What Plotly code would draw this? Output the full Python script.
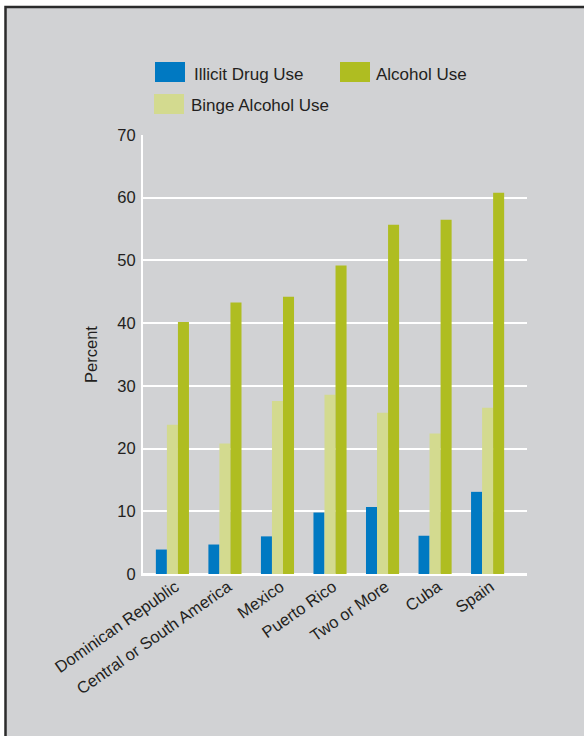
import plotly.graph_objects as go

categories = ["Dominican Republic", "Central or South America", "Mexico",
              "Puerto Rico", "Two or More", "Cuba", "Spain"]
illicit_drug = [3.9, 4.7, 6.0, 9.8, 10.7, 6.1, 13.1]
binge_alcohol = [23.8, 20.8, 27.6, 28.6, 25.7, 22.4, 26.5]
alcohol = [40.2, 43.3, 44.2, 49.2, 55.7, 56.5, 60.8]
y_ticks = [0, 10, 20, 30, 40, 50, 60, 70]

C_BLUE = "#0079C2"
C_OLIVE = "#AFBD21"
C_LIGHT = "#D3DA8F"
BG = "#D1D2D4"
TXT = "#231F20"
FONT = "Liberation Sans, Arial, sans-serif"
FS = 16.5

W, H = 584, 736
L, R, T, B = 143, 57, 135, 162
PW, PH = W - L - R, H - T - B


def px(x):
    return (x - L) / PW


def py(y):
    return (H - B - y) / PH


fig = go.Figure()
fig.add_trace(go.Bar(x=categories, y=illicit_drug, name="Illicit Drug Use",
                     marker=dict(color=C_BLUE, line=dict(width=0))))
fig.add_trace(go.Bar(x=categories, y=binge_alcohol, name="Binge Alcohol Use",
                     marker=dict(color=C_LIGHT, line=dict(width=0))))
fig.add_trace(go.Bar(x=categories, y=alcohol, name="Alcohol Use",
                     marker=dict(color=C_OLIVE, line=dict(width=0))))

shapes = [
    dict(type="rect", xref="paper", yref="paper", layer="below",
         x0=px(5.5), x1=px(600), y0=py(7), y1=py(760),
         fillcolor=BG, line=dict(color="#2B2B2B", width=2.5)),
]
annotations = []
legend_items = [
    ("Illicit Drug Use", C_BLUE, 155, 62, 192, 75),
    ("Alcohol Use", C_OLIVE, 340, 62, 374, 75),
    ("Binge Alcohol Use", C_LIGHT, 154, 94, 189, 106),
]
for name, col, sx, sy, tx, ty in legend_items:
    shapes.append(dict(type="rect", xref="paper", yref="paper",
                       x0=px(sx), x1=px(sx + 30), y0=py(sy), y1=py(sy + 20),
                       fillcolor=col, line=dict(width=0)))
    annotations.append(dict(text=name, xref="paper", yref="paper",
                            x=px(tx), y=py(ty), xanchor="left", yanchor="middle",
                            showarrow=False, font=dict(family=FONT, size=17, color=TXT)))

fig.update_layout(
    width=W, height=H,
    margin=dict(l=L, r=R, t=T, b=B, autoexpand=False),
    paper_bgcolor="white",
    plot_bgcolor="rgba(0,0,0,0)",
    barmode="group", bargap=0.37, bargroupgap=0,
    showlegend=False,
    font=dict(family=FONT, size=FS, color=TXT),
    shapes=shapes,
    annotations=annotations,
    xaxis=dict(range=[-0.56, 6.75], tickangle=-35, showgrid=False,
               showline=True, linecolor="white", linewidth=2,
               ticks="", ticklabelshift=3, ticklabelstandoff=-5,
               tickfont=dict(family=FONT, size=FS, color=TXT), automargin=False),
    yaxis=dict(range=[0, 70], tickvals=y_ticks, showgrid=True, gridcolor="white",
               gridwidth=1.5, zeroline=True, zerolinecolor="white", zerolinewidth=2,
               showline=True, linecolor="white", linewidth=2,
               ticks="outside", ticklen=2, tickcolor="rgba(0,0,0,0)",
               tickfont=dict(family=FONT, size=FS, color=TXT),
               title=dict(text="Percent", font=dict(family=FONT, size=FS, color=TXT),
                          standoff=16),
               automargin=False),
)

fig.write_html("out.html", config={"displayModeBar": False},
               post_script="document.body.style.margin='0';")
